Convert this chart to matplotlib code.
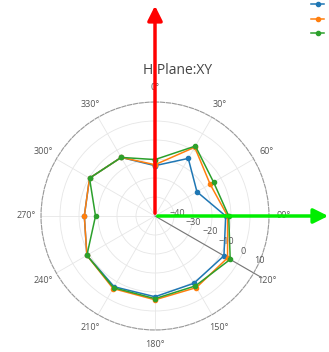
import numpy as np
import matplotlib.pyplot as plt

plt.rcParams['font.family'] = ['Open Sans', 'DejaVu Sans']

# angles in degrees, gain in dB
angles_deg = [0, 30, 60, 90, 120, 150, 180, 210, 240, 270, 300, 330]
gain_blue = [-23.5, -15.0, -24.5, -12.8, -8.1, -9.1, -7.5, -7.0, -8.6, -12.8, -10.2, -14.4]
gain_orange = [-23.0, -8.2, -16.5, -11.8, -5.9, -6.5, -5.9, -5.9, -8.6, -12.8, -10.2, -14.4]
gain_green = [-20.3, -7.5, -14.4, -11.2, -4.3, -7.5, -6.5, -6.4, -8.6, -18.7, -10.2, -14.4]
r_ticks = [-40, -30, -20, -10, 0, 10]

W, H = 329, 352
cx, cy, rad = 155, 216, 114
fig = plt.figure(figsize=(W/100, H/100), dpi=100)
ax = fig.add_axes([(cx-rad)/W, (H-cy-rad)/H, 2*rad/W, 2*rad/H], projection='polar')

ax.set_theta_zero_location('N')
ax.set_theta_direction(-1)
ax.set_ylim(-50, 10)
ax.set_yticks(r_ticks)
ax.set_yticklabels([])
ax.set_thetagrids(np.arange(0, 360, 30), [f'{a}°' for a in range(0, 360, 30)],
                  fontsize=6.5, color='#555555')
ax.tick_params(axis='x', pad=0)
ax.grid(color='#e6e6e6', lw=0.6)
ax.spines['polar'].set_linestyle('--')
ax.spines['polar'].set_color('#999999')
ax.spines['polar'].set_linewidth(0.8)

# radial axis line at 120 deg with its labels beside it
th_lab = np.deg2rad(120)
ax.plot([th_lab, th_lab], [-50, 15], color='#777777', lw=0.8, clip_on=False)
for t in r_ticks:
    ax.annotate(str(t).replace('-', '\u2212'), xy=(th_lab, t), xytext=(4, 9),
                textcoords='offset points', ha='center', va='center',
                fontsize=6.5, color='#555555', annotation_clip=False)

th = np.deg2rad(angles_deg + [360])
handles = []
for g, c in [(gain_blue, 'tab:blue'), (gain_orange, 'tab:orange'), (gain_green, 'tab:green')]:
    vals = list(g) + [g[0]]
    h, = ax.plot(th, vals, color=c, lw=1.1, marker='o', ms=3)
    handles.append(h)

fig.text(178/W, (H-71)/H, 'H Plane:XY', fontsize=10, color='#444444',
         ha='center', va='center')

fig.legend(handles, ['', '', ''], loc='upper left', bbox_to_anchor=(306/W, 1.01),
           frameon=False, handlelength=1.6, fontsize=6, labelspacing=0.8,
           borderpad=0.1)

# axis arrows
ax.annotate('', xy=(cx, H-3), xytext=(cx, H-cy), xycoords='figure pixels',
            textcoords='figure pixels', annotation_clip=False,
            arrowprops=dict(arrowstyle='-|>', color='red', lw=2.5, mutation_scale=22))
ax.annotate('', xy=(331, H-cy), xytext=(cx, H-cy), xycoords='figure pixels',
            textcoords='figure pixels', annotation_clip=False,
            arrowprops=dict(arrowstyle='-|>', color='#00ee00', lw=2.5, mutation_scale=22))

fig.savefig('out.png', dpi=100)
